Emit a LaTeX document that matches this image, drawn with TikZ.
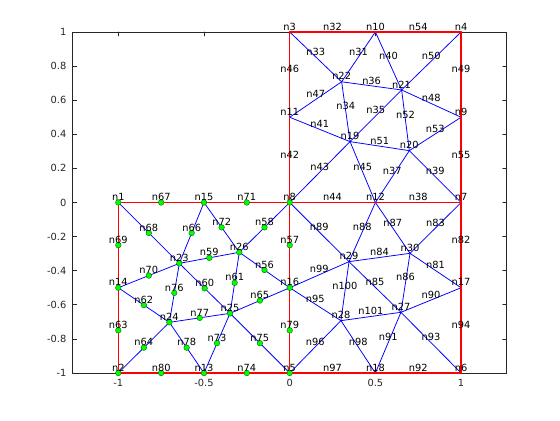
\documentclass[tikz,border=0pt]{standalone}
\usepackage{fontspec}
\setmainfont{DejaVu Sans}
\usetikzlibrary{calc}
\definecolor{axgray}{rgb}{0.15,0.15,0.15}

\begin{document}
\begin{tikzpicture}[x=4.285cm,y=4.2625cm,line cap=round,line join=round,
    meshedge/.style={blue,line width=0.55pt},
    bndedge/.style={red,line width=1pt},
    dotm/.style={fill=green,draw=green!45!black,line width=0.3pt},
    lbl/.style={anchor=base,yshift=1.3pt,inner sep=0pt,font=\fontsize{7}{8}\selectfont},
    ticklbl/.style={inner sep=0pt,text=axgray,font=\fontsize{7}{8}\selectfont}]
  \fill[white] (-1.6902,-1.2757) rectangle (1.5770,1.1877);
  \useasboundingbox (-1.6902,-1.2757) rectangle (1.5770,1.1877);
  % axes
  \draw[axgray,line width=0.5pt] (-1.266,-1) rectangle (1.266,1);
  \foreach \t/\s in {-1/-1,-0.5/-0.5,0/0,0.5/0.5,1/1} {
    \draw[axgray,line width=0.5pt] (\t,-1) -- ++(0,0.0235);
    \draw[axgray,line width=0.5pt] (\t,1) -- ++(0,-0.0235);
    \node[ticklbl,anchor=north] (xt\s) at ([yshift=-4pt]\t,-1) {\s};
  }
  \foreach \t in {-1,-0.8,-0.6,-0.4,-0.2,0,0.2,0.4,0.6,0.8,1} {
    \draw[axgray,line width=0.5pt] (-1.266,\t) -- ++(0.0233,0);
    \draw[axgray,line width=0.5pt] (1.266,\t) -- ++(-0.0233,0);
    \node[ticklbl,anchor=east] (yt\t) at ([xshift=-4.3pt]-1.266,\t) {\t};
  }
  % vertices
  \coordinate (n1) at (-1,0);      \coordinate (n2) at (-1,-1);
  \coordinate (n3) at (0,1);       \coordinate (n4) at (1,1);
  \coordinate (n5) at (0,-1);      \coordinate (n6) at (1,-1);
  \coordinate (n7) at (1,0);       \coordinate (n8) at (0,0);
  \coordinate (n9) at (1,0.5);     \coordinate (n10) at (0.5,1);
  \coordinate (n11) at (0,0.5);    \coordinate (n12) at (0.5,0);
  \coordinate (n13) at (-0.5,-1);  \coordinate (n14) at (-1,-0.5);
  \coordinate (n15) at (-0.5,0);   \coordinate (n16) at (0,-0.5);
  \coordinate (n17) at (1,-0.5);   \coordinate (n18) at (0.5,-1);
  \coordinate (n19) at (0.352,0.357);   \coordinate (n20) at (0.698,0.304);
  \coordinate (n21) at (0.653,0.660);   \coordinate (n22) at (0.303,0.708);
  \coordinate (n23) at (-0.644,-0.357); \coordinate (n24) at (-0.702,-0.703);
  \coordinate (n25) at (-0.348,-0.650); \coordinate (n26) at (-0.294,-0.292);
  \coordinate (n27) at (0.649,-0.644);  \coordinate (n28) at (0.299,-0.693);
  \coordinate (n29) at (0.346,-0.347);  \coordinate (n30) at (0.702,-0.298);
  % inner edges
  \foreach \a/\b/\m in {n1/n23/68,n15/n23/66,n15/n26/72,n8/n26/58,n23/n26/59,
      n14/n23/70,n23/n24/76,n23/n25/60,n26/n25/61,n26/n16/56,n14/n24/62,
      n24/n25/77,n25/n16/65,n2/n24/64,n24/n13/78,n25/n13/73,n25/n5/75,
      n8/n29/89,n12/n29/88,n12/n30/87,n7/n30/83,n29/n30/84,n16/n29/99,
      n29/n28/100,n29/n27/85,n30/n27/86,n30/n17/81,n16/n28/95,n28/n27/101,
      n27/n17/90,n5/n28/96,n28/n18/98,n27/n18/91,n27/n6/93,
      n3/n22/33,n10/n22/31,n10/n21/40,n4/n21/50,n22/n21/36,n11/n22/47,
      n22/n19/34,n21/n19/35,n21/n20/52,n21/n9/48,n11/n19/41,n19/n20/51,
      n9/n20/53,n8/n19/43,n19/n12/45,n20/n12/37,n20/n7/39} {
    \draw[meshedge] (\a) -- (\b);
    \coordinate (m\m) at ($(\a)!0.5!(\b)$);
  }
  % subdomain boundaries
  \foreach \a/\b/\m in {n1/n15/67,n15/n8/71,n8/n12/44,n12/n7/38,n1/n14/69,
      n14/n2/63,n2/n13/80,n13/n5/74,n5/n18/97,n18/n6/92,n6/n17/94,n17/n7/82,
      n7/n9/55,n9/n4/49,n4/n10/54,n10/n3/32,n3/n11/46,n11/n8/42,n8/n16/57,
      n16/n5/79} {
    \draw[bndedge] (\a) -- (\b);
    \coordinate (m\m) at ($(\a)!0.5!(\b)$);
  }
  % marked nodes
  \foreach \p in {n1,n15,n8,n14,n16,n2,n13,n5,n23,n26,n24,n25,
      m67,m71,m69,m63,m80,m74,m57,m79,m68,m66,m72,m58,m59,m70,m76,m60,
      m61,m56,m62,m77,m65,m64,m78,m73,m75}
    \filldraw[dotm] (\p) circle (2pt);
  % labels
  \foreach \i in {1,...,30}
    \node[lbl] (l\i) at (n\i) {n\i};
  \foreach \i in {31,...,101}
    \node[lbl] (l\i) at (m\i) {n\i};
\end{tikzpicture}
\end{document}
